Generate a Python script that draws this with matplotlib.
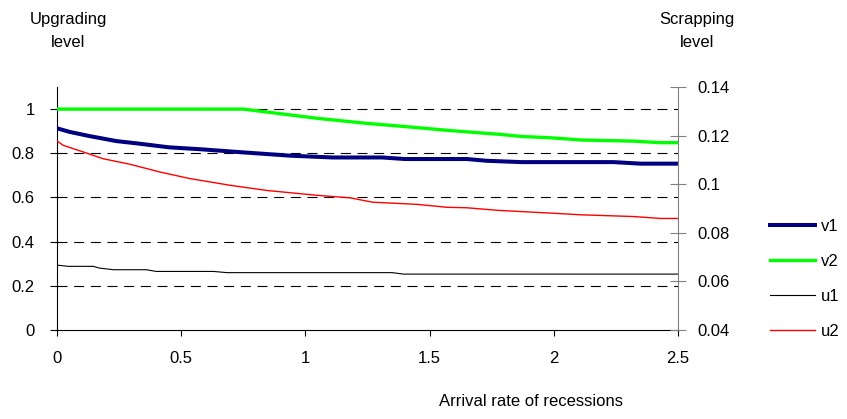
import matplotlib.pyplot as plt

plt.rcParams['font.family'] = ['Liberation Sans', 'DejaVu Sans']

# Данные
v1_x = [0, 0.05, 0.13, 0.24, 0.32, 0.45, 0.58, 0.75, 0.94, 1.11, 1.31, 1.40, 1.65, 1.73, 1.87, 2.24, 2.35, 2.5]
v1_y = [0.913, 0.897, 0.878, 0.855, 0.845, 0.827, 0.818, 0.804, 0.789, 0.781, 0.781, 0.774, 0.774, 0.766,
        0.760, 0.760, 0.753, 0.753]

v2_x = [0, 0.75, 1.05, 1.25, 1.38, 1.46, 1.58, 1.78, 1.87, 1.99, 2.11, 2.32, 2.43, 2.5]
v2_y = [1.0, 1.0, 0.958, 0.935, 0.923, 0.915, 0.903, 0.886, 0.876, 0.870, 0.860, 0.855, 0.848, 0.848]

u1_x = [0, 0.045, 0.146, 0.17, 0.227, 0.36, 0.40, 0.63, 0.685, 1.35, 1.395, 2.5]
u1_y = [0.0667, 0.0662, 0.0662, 0.0655, 0.0648, 0.0648, 0.0641, 0.0641, 0.0636, 0.0636, 0.0630, 0.0630]

u2_x = [0, 0.025, 0.105, 0.185, 0.294, 0.415, 0.536, 0.70, 0.847, 1.05, 1.18, 1.27, 1.45, 1.57, 1.65,
        1.78, 1.99, 2.11, 2.32, 2.43, 2.5]
u2_y = [0.1178, 0.116, 0.1133, 0.1105, 0.1082, 0.105, 0.1023, 0.0995, 0.0974, 0.0954, 0.0944, 0.0926,
        0.0917, 0.0905, 0.0903, 0.0892, 0.0881, 0.0874, 0.0867, 0.0859, 0.0859]

x_ticks = [0, 0.5, 1, 1.5, 2, 2.5]
x_tick_labels = ['0', '0.5', '1', '1.5', '2', '2.5']
left_ticks = [0, 0.2, 0.4, 0.6, 0.8, 1]
left_tick_labels = ['0', '0.2', '0.4', '0.6', '0.8', '1']
right_ticks = [0.04, 0.06, 0.08, 0.1, 0.12, 0.14]
right_tick_labels = ['0.04', '0.06', '0.08', '0.1', '0.12', '0.14']

W, H = 847, 419
fs = 12

fig = plt.figure(figsize=(W / 100, H / 100), dpi=100)
ax = fig.add_axes([57 / W, 89 / H, (678 - 57) / W, 243 / H])
ax2 = ax.twinx()

# Пунктирная сетка по левой оси
for t in left_ticks[1:]:
    ax.axhline(t, color='black', linewidth=0.8, linestyle=(0, (9, 6)), zorder=1)

l1, = ax.plot(v1_x, v1_y, color='#000080', linewidth=2.9, label='v1', zorder=3)
l2, = ax.plot(v2_x, v2_y, color='#00FF00', linewidth=2.4, label='v2', zorder=3)
l3, = ax2.plot(u1_x, u1_y, color='black', linewidth=0.8, label='u1')
l4, = ax2.plot(u2_x, u2_y, color='#FF0000', linewidth=1.0, label='u2')

ax.set_xlim(0, 2.5)
ax.set_ylim(0, 1.1)
ax2.set_ylim(0.04, 0.14)

ax.set_xticks(x_ticks)
ax.set_xticklabels(x_tick_labels, fontsize=fs)
ax.set_yticks(left_ticks)
ax.set_yticklabels(left_tick_labels, fontsize=fs)
ax2.set_yticks(right_ticks)
ax2.set_yticklabels(right_tick_labels, fontsize=fs)

ax.tick_params(axis='x', direction='out', length=4.3, width=0.8, pad=10.5)
ax.tick_params(axis='y', direction='out', length=5, width=0.8, pad=11)
ax2.tick_params(axis='y', direction='inout', length=11.5, width=0.8, color='#808080', pad=8)

for a in (ax, ax2):
    a.spines['top'].set_visible(False)
    a.patch.set_visible(False)
ax.spines['right'].set_visible(False)
ax2.spines['left'].set_visible(False)
ax2.spines['bottom'].set_visible(False)
ax2.spines['right'].set_color('#808080')
ax.spines['left'].set_linewidth(0.8)
ax.spines['bottom'].set_linewidth(0.8)
ax2.spines['right'].set_linewidth(0.8)

# Подписи осей
fig.text(68 / W, 1 - 31 / H, 'Upgrading\nlevel', ha='center', va='center', fontsize=fs,
         linespacing=1.6)
fig.text(697 / W, 1 - 31 / H, 'Scrapping\nlevel', ha='center', va='center', fontsize=fs,
         linespacing=1.6)
fig.text(531 / W, 1 - 401 / H, 'Arrival rate of recessions', ha='center', va='center', fontsize=fs)

fig.legend(handles=[l1, l2, l3, l4], loc='upper left', bbox_to_anchor=(770 / W, 1 - 219 / H),
           frameon=False, fontsize=fs, handlelength=2.7, handletextpad=0.35,
           labelspacing=1.2, borderpad=0, borderaxespad=0)

fig.savefig('out.png', dpi=100)
